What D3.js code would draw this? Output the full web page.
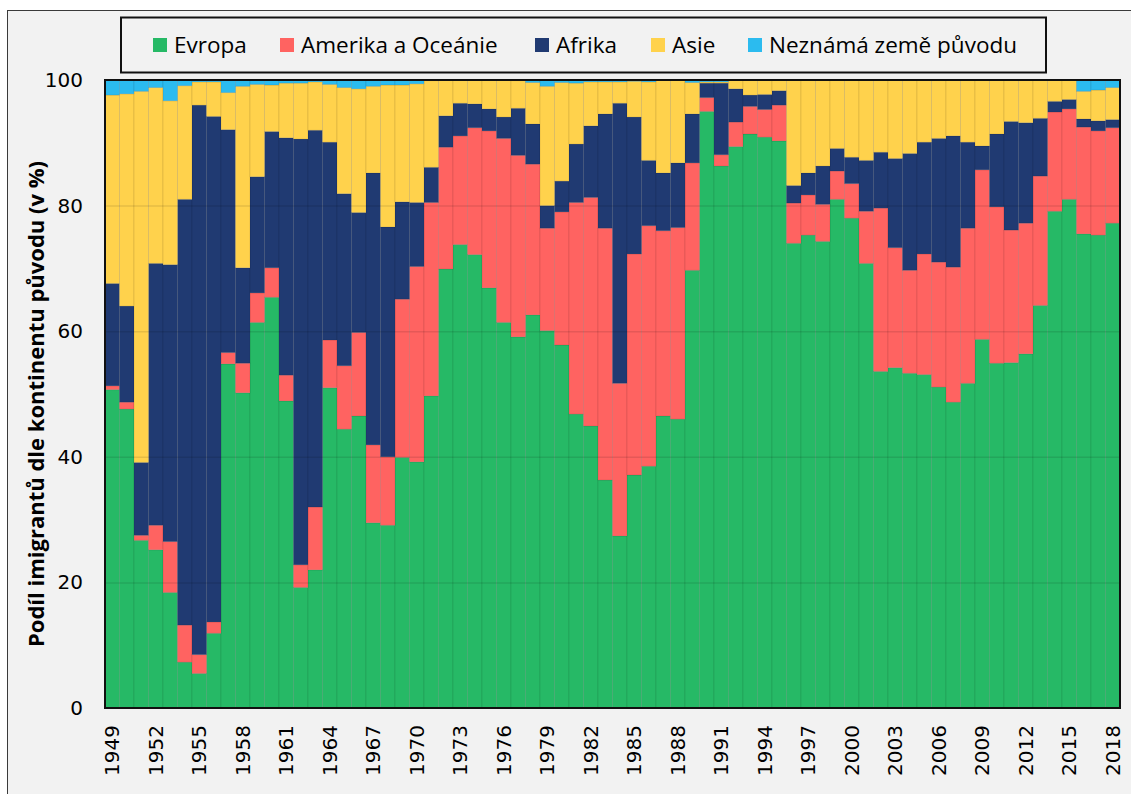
<!DOCTYPE html>
<html>
<head>
<meta charset="utf-8">
<script src="https://cdn.jsdelivr.net/npm/d3@7"></script>
<style>
  body { margin: 0; background: #fff; }
  svg { display: block; }
</style>
</head>
<body>
<svg id="chart"></svg>
<script>
'use strict';

// categories
var years = d3.range(1949, 2019);
var tickYears = [1949, 1952, 1955, 1958, 1961, 1964, 1967, 1970, 1973, 1976, 1979, 1982,
  1985, 1988, 1991, 1994, 1997, 2000, 2003, 2006, 2009, 2012, 2015, 2018];
var yTicks = [0, 20, 40, 60, 80, 100];

// shares in %, 1949..2018
var evropa = [50.7, 47.6, 26.7, 25.2, 18.4, 7.3, 5.5, 11.9, 54.8, 50.2, 61.4, 65.4,
  48.9, 19.2, 22.0, 51.0, 44.4, 46.5, 29.5, 29.1, 39.9, 39.2, 49.7, 69.9,
  73.8, 72.2, 66.9, 61.4, 59.1, 62.6, 60.1, 57.8, 46.8, 44.9, 36.3, 27.4,
  37.1, 38.5, 46.5, 46.0, 69.7, 95.0, 86.3, 89.4, 91.4, 90.9, 90.3, 74.0,
  75.3, 74.3, 81.0, 78.0, 70.8, 53.6, 54.2, 53.3, 53.1, 51.1, 48.7, 51.7,
  58.7, 54.9, 55.0, 56.4, 64.1, 79.1, 81.0, 75.5, 75.3, 77.2];
var amerika = [0.6, 1.1, 0.8, 3.9, 8.1, 5.9, 3.0, 1.8, 1.8, 4.7, 4.7, 4.7,
  4.1, 3.6, 10.0, 7.6, 10.1, 13.3, 12.4, 10.9, 25.2, 31.1, 30.8, 19.4,
  17.3, 20.2, 25.0, 29.3, 28.9, 24.0, 16.3, 21.2, 33.7, 36.4, 40.1, 24.3,
  35.2, 38.3, 29.5, 30.5, 17.1, 2.2, 1.8, 3.9, 4.4, 4.4, 5.7, 6.4,
  6.4, 5.9, 4.5, 5.5, 8.3, 26.0, 19.1, 16.4, 19.2, 19.9, 21.5, 24.7,
  27.0, 24.9, 21.1, 20.8, 20.6, 15.8, 14.4, 17.0, 16.6, 15.2];
var afrika = [16.3, 15.3, 11.6, 41.7, 44.1, 67.8, 87.5, 80.5, 35.5, 15.2, 18.5, 21.7,
  37.8, 67.8, 60.0, 31.5, 27.4, 19.1, 43.3, 36.6, 15.5, 10.2, 5.6, 5.0,
  5.2, 3.8, 3.5, 3.4, 7.5, 6.4, 3.6, 4.9, 9.3, 11.4, 18.2, 44.6,
  21.8, 10.4, 9.2, 10.3, 7.8, 2.3, 11.4, 5.3, 1.8, 2.4, 2.3, 2.8,
  3.5, 6.1, 3.6, 4.2, 8.1, 8.9, 14.2, 18.6, 17.8, 19.7, 20.9, 13.7,
  3.8, 11.6, 17.3, 16.0, 9.2, 1.7, 1.5, 1.3, 1.6, 1.3];
var asie = [30.0, 33.8, 59.1, 28.0, 26.1, 18.1, 3.7, 5.5, 5.9, 28.9, 14.7, 7.4,
  8.7, 8.9, 7.7, 9.2, 16.9, 19.7, 13.8, 22.6, 18.6, 18.9, 13.8, 5.7,
  3.7, 3.8, 4.6, 5.9, 4.4, 6.6, 19.0, 15.7, 9.7, 7.0, 5.1, 3.4,
  5.7, 12.5, 14.8, 13.2, 5.0, 0.2, 0.2, 1.4, 2.4, 2.3, 1.7, 16.8,
  14.8, 13.7, 10.9, 12.3, 12.8, 11.5, 12.5, 11.7, 9.9, 9.3, 8.9, 9.9,
  10.5, 8.6, 6.6, 6.8, 6.1, 3.4, 3.1, 4.4, 4.9, 5.1];
var neznama = [2.4, 2.2, 1.8, 1.2, 3.3, 0.9, 0.3, 0.3, 2.0, 1.0, 0.7, 0.8,
  0.5, 0.5, 0.3, 0.7, 1.2, 1.4, 1.0, 0.8, 0.8, 0.6, 0.1, 0.0,
  0.0, 0.0, 0.0, 0.0, 0.1, 0.4, 1.0, 0.4, 0.5, 0.3, 0.3, 0.3,
  0.2, 0.3, 0.0, 0.0, 0.4, 0.3, 0.3, 0.0, 0.0, 0.0, 0.0, 0.0,
  0.0, 0.0, 0.0, 0.0, 0.0, 0.0, 0.0, 0.0, 0.0, 0.0, 0.0, 0.0,
  0.0, 0.0, 0.0, 0.0, 0.0, 0.0, 0.0, 1.8, 1.6, 1.2];

var seriesNames = ['Evropa', 'Amerika a Oceánie', 'Afrika', 'Asie', 'Neznámá země původu'];
var seriesValues = [evropa, amerika, afrika, asie, neznama];
var seriesColors = ['#26b966', '#ff6361', '#203a72', '#ffd24c', '#2bbbef'];

// build table for d3.stack
var table = years.map(function(y, i) {
  var row = { year: y };
  seriesNames.forEach(function(n, k) { row[n] = seriesValues[k][i]; });
  return row;
});

var W = 1131, H = 794;
var plot = { left: 105, right: 1120, top: 80, bottom: 708 };

var svg = d3.select('#chart').attr('width', W).attr('height', H);

// chart background + outer frame
svg.append('rect')
  .attr('x', 7.5).attr('y', 10.5)
  .attr('width', W).attr('height', H)
  .attr('fill', '#f2f2f2')
  .attr('stroke', '#3a3a3a').attr('stroke-width', 1);

var xScale = d3.scaleBand().domain(years).range([plot.left, plot.right]).padding(0);
var yScale = d3.scaleLinear().domain([0, 100]).range([plot.bottom, plot.top]);

var stack = d3.stack().keys(seriesNames);
var layers = stack(table);

var barsG = svg.append('g');
layers.forEach(function(layer, k) {
  barsG.append('g')
    .attr('fill', seriesColors[k])
    .selectAll('rect')
    .data(layer)
    .enter()
    .append('rect')
    .attr('x', d => xScale(d.data.year))
    .attr('width', xScale.bandwidth())
    .attr('y', d => yScale(Math.min(100, d[1])))
    .attr('height', d => Math.max(0, yScale(d[0]) - yScale(Math.min(100, d[1]))))
    .attr('stroke', 'rgba(0,0,0,0.09)')
    .attr('stroke-width', 1);
});

// gridlines drawn over the bars, like the original
svg.append('g')
  .attr('transform', 'translate(' + plot.left + ',0)')
  .call(d3.axisLeft(yScale).tickValues([20, 40, 60, 80]).tickSize(-(plot.right - plot.left)).tickFormat(''))
  .call(g => g.select('.domain').remove())
  .call(g => g.selectAll('line').attr('stroke', 'rgba(0,0,0,0.1)').attr('stroke-width', 1.5));

// plot frame
svg.append('rect')
  .attr('x', plot.left).attr('y', plot.top)
  .attr('width', plot.right - plot.left).attr('height', plot.bottom - plot.top)
  .attr('fill', 'none').attr('stroke', '#111').attr('stroke-width', 2);

// y axis labels
var yAxis = svg.append('g')
  .attr('transform', 'translate(' + plot.left + ',0)')
  .call(d3.axisLeft(yScale).tickValues(yTicks).tickSize(0).tickPadding(22));
yAxis.select('.domain').remove();
yAxis.selectAll('text')
  .attr('font-family', 'DejaVu Sans, sans-serif')
  .attr('font-size', 20)
  .attr('fill', '#000');

// x axis labels, rotated
var xAxis = svg.append('g')
  .attr('transform', 'translate(0,' + plot.bottom + ')')
  .call(d3.axisBottom(xScale).tickValues(tickYears).tickSize(0));
xAxis.select('.domain').remove();
xAxis.selectAll('text')
  .attr('font-family', 'DejaVu Sans, sans-serif')
  .attr('font-size', 20)
  .attr('fill', '#000')
  .attr('transform', 'rotate(-90)')
  .attr('text-anchor', 'end')
  .attr('x', -17)
  .attr('y', 0)
  .attr('dy', '0.35em');

// y axis title
svg.append('text')
  .attr('transform', 'translate(36,' + ((plot.top + plot.bottom) / 2 + 10) + ') rotate(-90)')
  .attr('text-anchor', 'middle')
  .attr('dy', '0.35em')
  .attr('font-family', 'Open Sans, sans-serif')
  .attr('font-weight', 'bold')
  .attr('font-size', 22)
  .text('Podíl imigrantů dle kontinentu původu (v %)');

// legend
var legendX = [153, 280, 535, 651, 748];
var legend = svg.append('g');
legend.append('rect')
  .attr('x', 121).attr('y', 17.5)
  .attr('width', 925).attr('height', 55)
  .attr('fill', '#f2f2f2')
  .attr('stroke', '#111').attr('stroke-width', 2);
seriesNames.forEach(function(n, k) {
  legend.append('rect')
    .attr('x', legendX[k]).attr('y', 38)
    .attr('width', 14).attr('height', 14)
    .attr('fill', seriesColors[k]);
  legend.append('text')
    .attr('x', legendX[k] + 21).attr('y', 45)
    .attr('dy', '0.35em')
    .attr('font-family', 'Open Sans, sans-serif')
    .attr('font-size', 22.5)
    .attr('fill', '#000')
    .text(n);
});
</script>
</body>
</html>
